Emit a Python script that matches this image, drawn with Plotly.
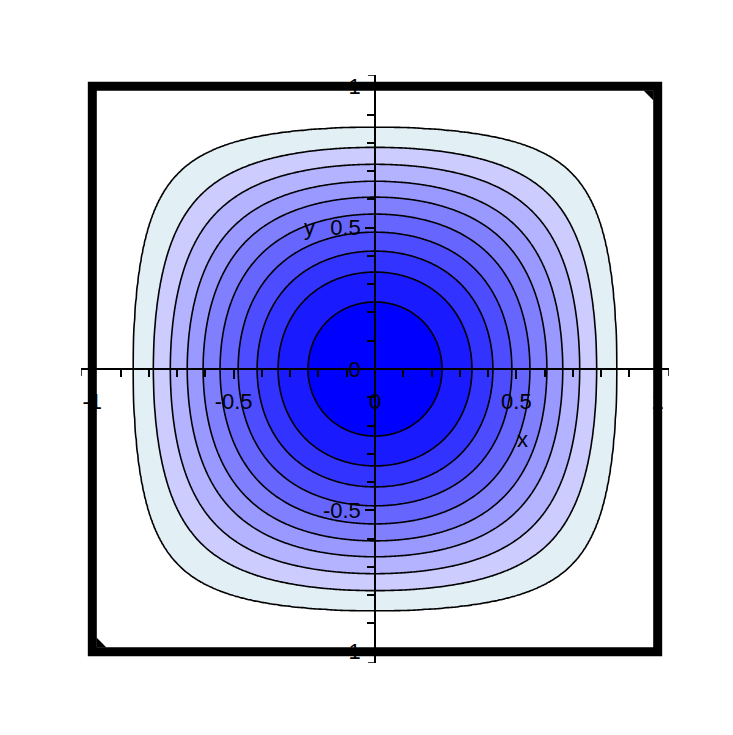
import numpy as np
import plotly.graph_objects as go

# Where each contour line crosses the positive x axis
crossings_x = [0.237, 0.343, 0.417, 0.484, 0.548, 0.608, 0.664, 0.724, 0.784, 0.855]
# Fill colour of each band, from the centre outwards
band_colors = ["#0000ff", "#1a1aff", "#3333ff", "#4d4dff", "#6666ff", "#8080ff",
               "#9999ff", "#b3b3ff", "#ccccff", "#e2eff4", "#ffffff"]
tick_values = [-1, -0.5, 0, 0.5, 1]
tick_labels = ["-1", "-0.5", "0", "0.5", "1"]

# Surface being contoured (vanishes on the square border)
grid = np.linspace(-1, 1, 361)
X, Y = np.meshgrid(grid, grid)
surface = (1 - X**2) * (1 - Y**2)

levels = 1 - np.array(crossings_x) ** 2           # surface value of each contour
knots_s = np.concatenate([[0.0], levels[::-1], [1.0]])
knots_i = np.concatenate([[11], np.arange(10, 0, -1), [0]])
band = np.interp(surface, knots_s, knots_i)       # monotone relabelling -> evenly spaced levels

n = len(band_colors) - 1
colorscale = [[k / n, c] for k, c in enumerate(band_colors)]

fig = go.Figure(go.Contour(
    x=grid, y=grid, z=band,
    contours=dict(start=1, end=10, size=1, coloring="fill"),
    colorscale=colorscale, showscale=False,
    line=dict(color="black", width=1.6),
    hoverinfo="skip",
))

font = dict(family="Liberation Sans", size=22, color="black")
axis_common = dict(
    range=[-1.04, 1.04], anchor="free", position=0.5,
    showline=True, linecolor="black", linewidth=1.5,
    ticks="outside", ticklen=9, tickwidth=1.5, tickcolor="black",
    tickmode="array", tickvals=tick_values, ticktext=tick_labels,
    showgrid=False, zeroline=False, tickfont=font,
    minor=dict(ticks="outside", tick0=0, dtick=0.1, ticklen=7, tickwidth=1.5,
               tickcolor="black", showgrid=False),
)
fig.update_xaxes(**axis_common, ticklabelstandoff=4)
fig.update_yaxes(**axis_common, ticklabelstandoff=0)

s = 0.025
shapes = [
    dict(type="rect", x0=-1, x1=1, y0=-1, y1=1, line=dict(color="black", width=9), layer="above"),
    dict(type="path", path="M 0.950 0.985 L 0.985 0.985 L 0.985 0.950 Z",
         fillcolor="black", line=dict(width=0), layer="above"),
    dict(type="path", path="M -0.985 -0.950 L -0.985 -0.985 L -0.950 -0.985 Z",
         fillcolor="black", line=dict(width=0), layer="above"),
    dict(type="line", x0=-1.04, x1=-1.04, y0=0, y1=-s, line=dict(color="black", width=1.5), layer="above"),
    dict(type="line", x0=1.04, x1=1.04, y0=0, y1=-s, line=dict(color="black", width=1.5), layer="above"),
    dict(type="line", x0=0, x1=-s, y0=1.04, y1=1.04, line=dict(color="black", width=1.5), layer="above"),
    dict(type="line", x0=0, x1=-s, y0=-1.04, y1=-1.04, line=dict(color="black", width=1.5), layer="above"),
]

annotations = [
    dict(x=0.523, y=-0.251, text="x", showarrow=False, font=font, xref="x", yref="y"),
    dict(x=-0.23, y=0.50, text="y", showarrow=False, font=font, xref="x", yref="y"),
]

# the page adds an 8px body margin, so the plot area is shifted by 8px up/left here
fig.update_layout(
    width=733, height=735,
    margin=dict(l=73, r=72, t=67, b=80),
    plot_bgcolor="white", paper_bgcolor="white",
    showlegend=False, shapes=shapes, annotations=annotations,
)

fig.write_html("out.html")
